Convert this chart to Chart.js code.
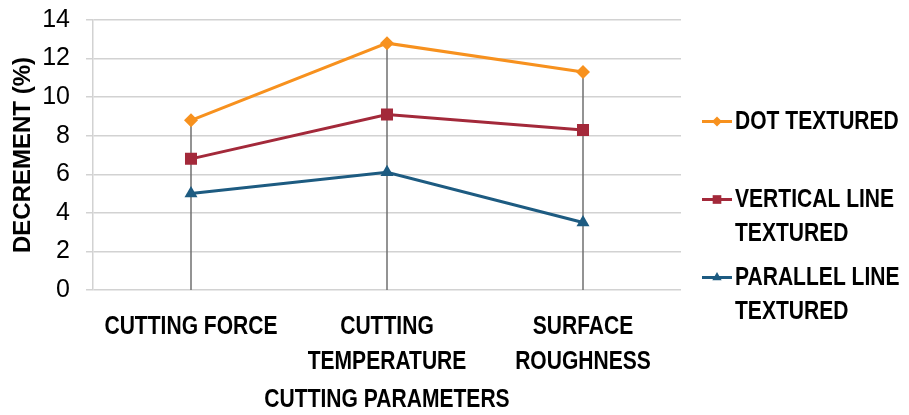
<!DOCTYPE html>
<html>
<head>
<meta charset="utf-8">
<title>Decrement by cutting parameter</title>
<script src="https://cdn.jsdelivr.net/npm/chart.js@4.4.1/dist/chart.umd.min.js"></script>
<style>
  html, body { margin: 0; padding: 0; background: #ffffff; }
  #wrap { width: 909px; height: 415px; }
</style>
</head>
<body>
<div id="wrap"><canvas id="chart" width="909" height="415"></canvas></div>
<script>
// Categories (wrapped into lines under the x axis)
const categories = [
  ['CUTTING FORCE'],
  ['CUTTING', 'TEMPERATURE'],
  ['SURFACE', 'ROUGHNESS']
];

// Decrement (%) for each texture
const dotTextured = [8.8, 12.8, 11.3];
const verticalLineTextured = [6.8, 9.1, 8.3];
const parallelLineTextured = [5.0, 6.1, 3.5];

// Series names as they are wrapped in the legend
const seriesNames = [
  ['DOT TEXTURED'],
  ['VERTICAL LINE', 'TEXTURED'],
  ['PARALLEL LINE', 'TEXTURED']
];

const yTicks = [0, 2, 4, 6, 8, 10, 12, 14];
const xTitle = 'CUTTING PARAMETERS';
const yTitle = 'DECREMENT (%)';

const COLORS = ['#F7911E', '#A3293A', '#1D5B81'];
const SANS = '"Liberation Sans", Arial, sans-serif';
const LABEL_FONT = 'bold 26px ' + SANS;
const SQUEEZE = 0.81;   // horizontal squeeze for the narrow label lettering

// Text drawn with a horizontal squeeze, anchored at (x, y)
function narrowText(ctx, text, x, y, align) {
  ctx.save();
  ctx.translate(x, y);
  ctx.scale(SQUEEZE, 1);
  ctx.textAlign = align;
  ctx.textBaseline = 'middle';
  ctx.fillText(text, 0, 0);
  ctx.restore();
}

// Vertical drop lines from the highest point of each category to the axis
const dropLines = {
  id: 'dropLines',
  beforeDatasetsDraw(chart) {
    const { ctx } = chart;
    const x = chart.scales.x, y = chart.scales.y;
    const n = chart.data.labels.length;
    ctx.save();
    ctx.strokeStyle = '#6f6f6f';
    ctx.lineWidth = 1.5;
    for (let i = 0; i < n; i++) {
      const top = Math.max(...chart.data.datasets.map(d => d.data[i]));
      const px = x.getPixelForValue(i);
      ctx.beginPath();
      ctx.moveTo(px, y.getPixelForValue(top));
      ctx.lineTo(px, y.getPixelForValue(0));
      ctx.stroke();
    }
    ctx.restore();
  }
};

// Category labels and axis title under the plot, placed by the category scale
const categoryLabels = {
  id: 'categoryLabels',
  afterDraw(chart) {
    const { ctx } = chart;
    const x = chart.scales.x;
    const firstLine = x.top + 37, lineStep = 35;
    ctx.save();
    ctx.fillStyle = '#000000';
    ctx.font = LABEL_FONT;
    categories.forEach((lines, i) => {
      const px = x.getPixelForValue(i);
      lines.forEach((line, k) => narrowText(ctx, line, px, firstLine + k * lineStep, 'center'));
    });
    narrowText(ctx, xTitle, (x.left + x.right) / 2, x.top + 110, 'center');
    ctx.restore();
  }
};

// Legend on the right: line sample with marker, wrapped label
const sideLegend = {
  id: 'sideLegend',
  afterDraw(chart) {
    const { ctx, chartArea } = chart;
    const x0 = chartArea.right + 21;
    const sampleW = 30;
    const firstY = 121.5, itemStep = 78, lineStep = 34;
    ctx.save();
    chart.data.datasets.forEach((ds, i) => {
      const yy = firstY + i * itemStep;
      ctx.strokeStyle = ds.borderColor;
      ctx.lineWidth = 3;
      ctx.beginPath();
      ctx.moveTo(x0, yy);
      ctx.lineTo(x0 + sampleW, yy);
      ctx.stroke();
      ctx.fillStyle = ds.borderColor;
      Chart.helpers.drawPoint(ctx, {
        pointStyle: ds.pointStyle, radius: ds.pointRadius * 0.72,
        rotation: 0, borderWidth: 0
      }, x0 + sampleW / 2, yy);
      ctx.fillStyle = '#000000';
      ctx.font = LABEL_FONT;
      seriesNames[i].forEach((line, k) => {
        narrowText(ctx, line, x0 + sampleW + 3, yy + k * lineStep, 'left');
      });
    });
    ctx.restore();
  }
};

const pointStyles = ['rectRot', 'rect', 'triangle'];
const pointSizes = [7, 8.5, 7.5];
const seriesData = [dotTextured, verticalLineTextured, parallelLineTextured];

new Chart(document.getElementById('chart'), {
  type: 'line',
  data: {
    labels: categories.map(c => c.join(' ')),
    datasets: seriesData.map((d, i) => ({
      label: seriesNames[i].join(' '),
      data: d,
      borderColor: COLORS[i],
      backgroundColor: COLORS[i],
      borderWidth: 3,
      pointStyle: pointStyles[i],
      pointRadius: pointSizes[i],
      pointBorderWidth: 0,
      pointHoverRadius: pointSizes[i],
      tension: 0,
      fill: false
    }))
  },
  options: {
    responsive: false,
    animation: false,
    devicePixelRatio: 1,
    layout: { padding: { left: 0, top: 20, right: 228, bottom: 0 } },
    plugins: {
      legend: { display: false },
      tooltip: { enabled: false }
    },
    scales: {
      x: {
        type: 'category',
        offset: true,
        afterFit(scale) { scale.height = 125; },
        grid: { display: false, drawTicks: false },
        border: { display: false },
        ticks: { display: false }
      },
      y: {
        min: 0,
        max: 14,
        afterBuildTicks(scale) {
          scale.ticks = yTicks.map(v => ({ value: v }));
        },
        afterFit(scale) {
          scale.width = 93;
          scale.paddingTop = 0;
          scale.paddingBottom = 0;
        },
        grid: { color: '#d2d2d2', lineWidth: 1.5, tickLength: 7, drawTicks: true },
        border: { display: true, color: '#d2d2d2', width: 1.5 },
        ticks: {
          padding: 16,
          color: '#000000',
          font: { family: SANS, size: 25 }
        },
        title: {
          display: true,
          text: yTitle,
          color: '#000000',
          padding: { top: 9, bottom: 0 },
          font: { family: SANS, size: 24, weight: 'bold' }
        }
      }
    }
  },
  plugins: [dropLines, categoryLabels, sideLegend]
});
</script>
</body>
</html>
